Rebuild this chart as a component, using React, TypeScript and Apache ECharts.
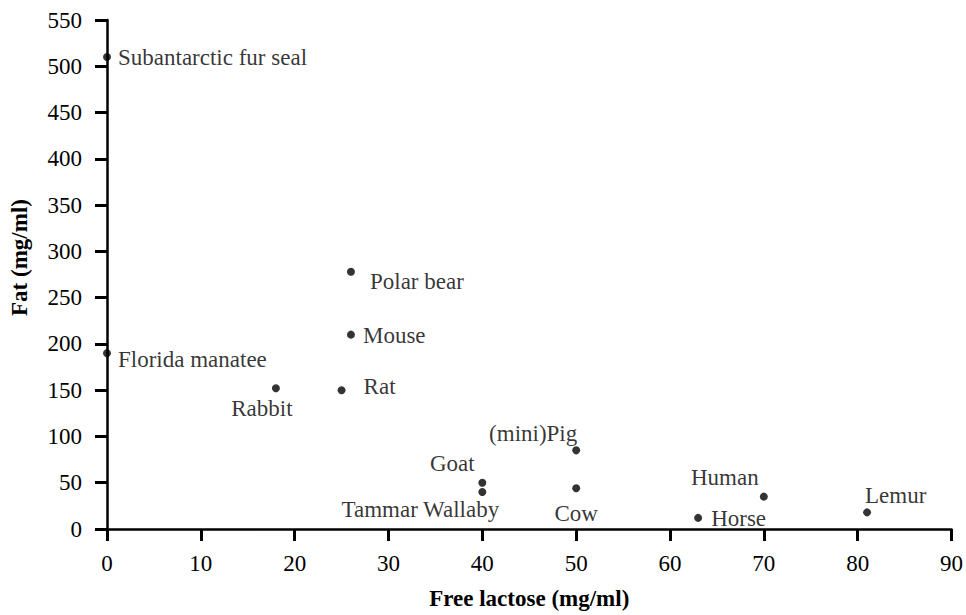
import React, { useEffect, useRef } from "react";
import * as echarts from "echarts";

const animals = [
  "Subantarctic fur seal",
  "Florida manatee",
  "Polar bear",
  "Mouse",
  "Rat",
  "Rabbit",
  "(mini)Pig",
  "Goat",
  "Tammar Wallaby",
  "Cow",
  "Horse",
  "Human",
  "Lemur",
];
const freeLactose = [0, 0, 26, 26, 25, 18, 50, 40, 40, 50, 63, 70, 81];
const fat = [510, 190, 278, 210, 150, 152, 85, 50, 40, 44, 12, 35, 18];

const xTicks = { min: 0, max: 90, interval: 10 };
const yTicks = { min: 0, max: 550, interval: 50 };

// label placement (text anchor offset from point centre, px; alignment)
const labelLayout: [number, number, string][] = [
  [11, 0, "left"],
  [11, 6, "left"],
  [19, 10, "left"],
  [12, 1, "left"],
  [22, -4, "left"],
  [-14, 20, "center"],
  [-43, -17, "center"],
  [-30, -19, "center"],
  [-62, 18, "center"],
  [0, 25, "center"],
  [13, 1, "left"],
  [-39, -19, "center"],
  [-2, -17, "left"],
];

const FONT = "'Liberation Serif', 'Times New Roman', serif";
const SYMBOL = 8;

export default function App() {
  const ref = useRef<HTMLDivElement>(null);
  useEffect(() => {
    if (!ref.current) return;
    const chart = echarts.init(ref.current, undefined, { renderer: "svg" });
    const data = animals.map((name, i) => ({
      name,
      value: [freeLactose[i], fat[i]],
      label: {
        show: true,
        position: [SYMBOL / 2 + labelLayout[i][0], SYMBOL / 2 + labelLayout[i][1]],
        formatter: name,
        align: labelLayout[i][2],
        verticalAlign: "middle",
      },
    }));
    chart.setOption({
      animation: false,
      backgroundColor: "#ffffff",
      grid: { left: 106, right: 13, top: 20, bottom: 82, containLabel: false },
      xAxis: {
        type: "value",
        min: xTicks.min,
        max: xTicks.max,
        interval: xTicks.interval,
        name: "Free lactose (mg/ml)",
        nameLocation: "middle",
        nameGap: 58,
        nameTextStyle: { fontFamily: FONT, fontSize: 23, fontWeight: "bold", color: "#000" },
        axisLine: { show: true, onZero: false, lineStyle: { color: "#000", width: 2.5 } },
        axisTick: { show: true, inside: false, length: 12, lineStyle: { color: "#000", width: 3 } },
        axisLabel: { fontFamily: FONT, fontSize: 23, color: "#000", margin: 23 },
        splitLine: { show: false },
      },
      yAxis: {
        type: "value",
        min: yTicks.min,
        max: yTicks.max,
        interval: yTicks.interval,
        name: "Fat (mg/ml)",
        nameLocation: "middle",
        nameGap: 76,
        nameTextStyle: {
          fontFamily: FONT,
          fontSize: 23,
          fontWeight: "bold",
          color: "#000",
          padding: [0, 0, 0, 34],
        },
        axisLine: { show: true, onZero: false, lineStyle: { color: "#000", width: 2.5 } },
        axisTick: { show: true, inside: false, length: 12, lineStyle: { color: "#000", width: 3 } },
        axisLabel: { fontFamily: FONT, fontSize: 23, color: "#000", margin: 25 },
        splitLine: { show: false },
      },
      series: [
        {
          type: "scatter",
          symbol: "circle",
          symbolSize: SYMBOL,
          itemStyle: { color: "#000" },
          label: { fontFamily: FONT, fontSize: 23, color: "#000" },
          labelLayout: { hideOverlap: false },
          data,
        },
      ],
    });
    return () => chart.dispose();
  }, []);
  return (
    <div
      ref={ref}
      style={{ position: "fixed", left: 0, top: 0, width: 966, height: 615 }}
    />
  );
}
